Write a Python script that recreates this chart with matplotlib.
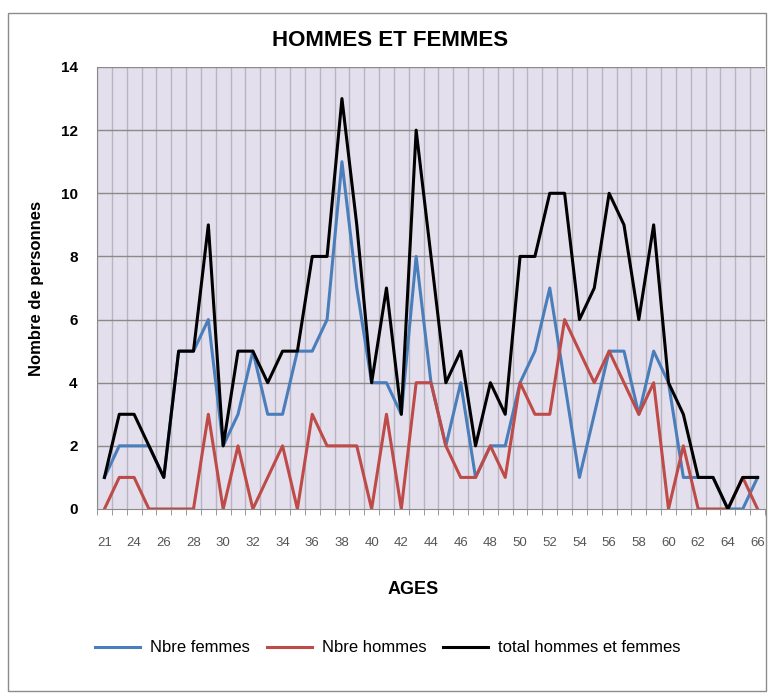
import matplotlib as mpl
mpl.use("Agg")
import matplotlib.pyplot as plt
from matplotlib.patches import Rectangle
import numpy as np

# ages present in the table (22 is missing)
AGES = [21] + list(range(23, 67))
FEMMES = [1, 2, 2, 2, 1, 5, 5, 6, 2, 3, 5, 3, 3, 5, 5, 6, 11, 7, 4, 4, 3, 8, 4,
          2, 4, 1, 2, 2, 4, 5, 7, 4, 1, 3, 5, 5, 3, 5, 4, 1, 1, 1, 0, 0, 1]
HOMMES = [0, 1, 1, 0, 0, 0, 0, 3, 0, 2, 0, 1, 2, 0, 3, 2, 2, 2, 0, 3, 0, 4, 4,
          2, 1, 1, 2, 1, 4, 3, 3, 6, 5, 4, 5, 4, 3, 4, 0, 2, 0, 0, 0, 1, 0]
TOTAL = [1, 3, 3, 2, 1, 5, 5, 9, 2, 5, 5, 4, 5, 5, 8, 8, 13, 9, 4, 7, 3, 12, 8,
         4, 5, 2, 4, 3, 8, 8, 10, 10, 6, 7, 10, 9, 6, 9, 4, 3, 1, 1, 0, 1, 1]
SERIES = [("Nbre femmes", FEMMES, "#4A7EBB"),
          ("Nbre hommes", HOMMES, "#BE4B48"),
          ("total hommes et femmes", TOTAL, "#000000")]

FONT = ["Liberation Sans", "DejaVu Sans"]

fig = plt.figure(figsize=(7.69, 6.99), dpi=100)
# outer chart frame
fig.patches.append(Rectangle((8 / 769, 8 / 699), 758 / 769, 678 / 699, transform=fig.transFigure,
                             fill=False, edgecolor="#8c8c8c", linewidth=1.0))

ax = fig.add_axes([97 / 769, 190 / 699, 668 / 769, 442 / 699])
ax.set_facecolor("#E4DFEC")
x = np.arange(len(AGES))

# vertical gridlines between categories, horizontal every 2
for xb in np.arange(-0.5, len(AGES), 1):
    ax.axvline(xb, color="#b8b4c0", linewidth=1.0, zorder=1)
for yv in range(2, 15, 2):
    ax.axhline(yv, color="#8a8a8a", linewidth=1.0, zorder=1)

for label, vals, color in SERIES:
    ax.plot(x, vals, color=color, linewidth=2.2, label=label, zorder=3)

ax.set_xlim(-0.5, len(AGES) - 0.5)
ax.set_ylim(0, 14)
ax.set_yticks(range(0, 15, 2))
ax.set_yticklabels([str(v) for v in range(0, 15, 2)], fontsize=11, fontweight="bold", family=FONT)
ax.set_xticks(x[::2])
ax.set_xticklabels([str(a) for a in AGES[::2]], fontsize=9.5, color="#555555", family=FONT)
ax.set_xticks(np.arange(-0.5, len(AGES), 1), minor=True)
ax.tick_params(axis="x", which="major", length=0, pad=20)
ax.tick_params(axis="x", which="minor", length=4, color="#888888")
ax.tick_params(axis="y", length=0, pad=14)

for side in ["top", "right"]:
    ax.spines[side].set_visible(False)
ax.spines["left"].set_color("#8a8a8a")
ax.spines["bottom"].set_color("#8a8a8a")

ax.set_ylabel("Nombre de personnes", fontsize=12, fontweight="bold", family=FONT, labelpad=12)
fig.text(413 / 769, 1 - 590 / 699, "AGES", ha="center", va="center", fontsize=13,
         fontweight="bold", family=FONT)
fig.text(390 / 769, 1 - 40 / 699, "HOMMES ET FEMMES", ha="center", va="center", fontsize=16,
         fontweight="bold", family=FONT)

ax.legend(loc="center", bbox_to_anchor=(388 / 769, 1 - 648 / 699), bbox_transform=fig.transFigure,
          ncol=3, frameon=False, prop={"family": FONT, "size": 12}, handlelength=2.7,
          columnspacing=1.0, handletextpad=0.6)

fig.savefig("out.png", dpi=100)
